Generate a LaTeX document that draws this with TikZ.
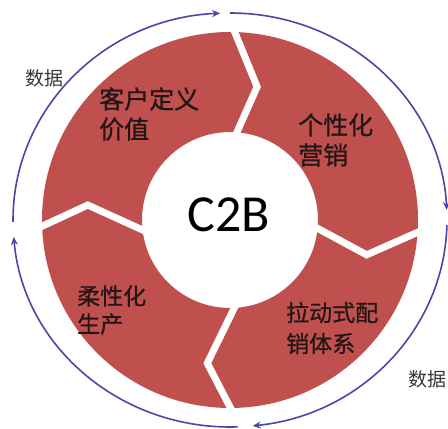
\documentclass[tikz,border=0pt]{standalone}
\usepackage{fontspec}
\setmainfont{Carlito}
\newfontfamily\cjk[FakeBold=0.8]{Noto Sans CJK SC}
\newfontfamily\cjkdata{Noto Sans CJK SC}
\usetikzlibrary{arrows.meta,calc}
\definecolor{ringred}{RGB}{192,80,77}
\definecolor{flowblue}{RGB}{72,72,170}
\definecolor{labeltxt}{RGB}{35,22,22}
\definecolor{datatxt}{RGB}{55,55,55}
\begin{document}
\begin{tikzpicture}[x=1pt,y=1pt,
  sepline/.style={draw=white,line width=7pt,line join=miter},
  flow/.style={draw=flowblue,line width=1.6pt,-{Stealth[length=8pt,width=7pt]}},
  lbl/.style={font=\cjk\fontsize{25}{30}\selectfont,align=left,inner sep=0pt,text=labeltxt,anchor=west},
  datalbl/.style={font=\cjkdata\fontsize{19}{22}\selectfont,inner sep=0pt,text=datatxt}]
\fill[white] (0,0) rectangle (448,429);
\useasboundingbox (0,0) rectangle (448,429);
\coordinate (c) at (230,209);
% ring
\fill[ringred,even odd rule] (c) circle[radius=188] (c) circle[radius=88];
% chevron separators
\draw[sepline] ($(c)+(89.7:197)$) -- ($(c)+(78.5:136)$) -- ($(c)+(87.5:80)$);
\draw[sepline] ($(c)+(-2.4:197)$) -- ($(c)+(-14.3:141)$) -- ($(c)+(-3:80)$);
\draw[sepline] ($(c)+(-88.5:197)$) -- ($(c)+(-99:145)$) -- ($(c)+(-84:80)$);
\draw[sepline] ($(c)+(183:197)$) -- ($(c)+(174:143)$) -- ($(c)+(190:80)$);
% data flow arcs
\draw[flow] ($(c)+({217*cos(180.5)},{207*sin(180.5)})$) arc[start angle=180.5,end angle=92.6,x radius=217,y radius=207];
\draw[flow] ($(c)+({217*cos(90)},{207*sin(90)})$) arc[start angle=90,end angle=2.8,x radius=217,y radius=207];
\draw[flow] ($(c)+({217*cos(-1.4)},{207*sin(-1.4)})$) arc[start angle=-1.4,end angle=-84,x radius=217,y radius=207];
\draw[flow] ($(c)+({217*cos(-88)},{207*sin(-88)})$) arc[start angle=-88,end angle=-175.3,x radius=217,y radius=207];
% labels
\node[font=\fontsize{52}{60}\selectfont,inner sep=0pt,text=black] (center) at (229,214) {C2B};
\node[lbl] (cv) at (99,315) {客户定义\\价值};
\node[lbl] (pm) at (298,289) {个性化\\营销};
\node[lbl,font=\cjk\fontsize{23}{28}\selectfont] (fp) at (77,119) {柔性化\\生产};
\node[lbl,font=\cjk\fontsize{23}{31}\selectfont] (pd) at (286,101) {拉动式配\\销体系};
\node[datalbl] (d1) at (44,351) {数据};
\node[datalbl] (d2) at (427,50) {数据};
\end{tikzpicture}
\end{document}
